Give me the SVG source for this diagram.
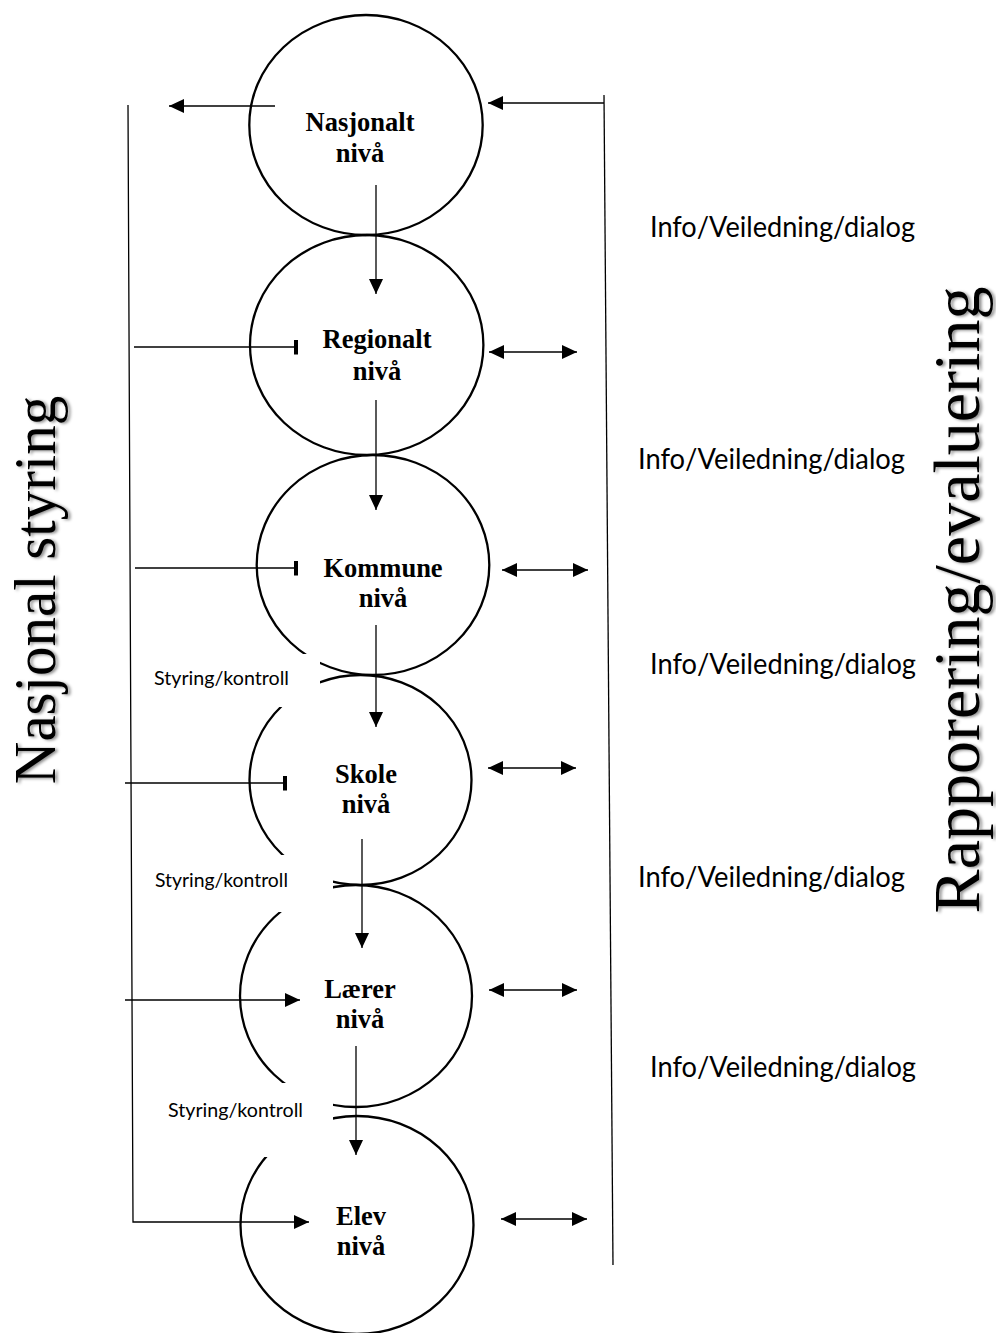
<svg xmlns="http://www.w3.org/2000/svg" width="996" height="1333" viewBox="0 0 996 1333">
<style>
.node{fill:none;stroke:#000;stroke-width:2.3}
.lbl{font-family:"Liberation Serif","Times New Roman",serif;font-weight:bold;font-size:26.5px;fill:#000;text-anchor:middle}
.conn{fill:none;stroke:#000;stroke-width:1.3}
.info{font-family:Lato,"Open Sans","Liberation Sans",sans-serif;font-size:28px;fill:#000}
.sk{font-family:Lato,"Open Sans","Liberation Sans",sans-serif;font-size:20px;fill:#000}
.side{font-family:"Liberation Serif","Times New Roman",serif;fill:#000;text-anchor:middle}
</style>
<defs>
<marker id="ah" markerUnits="userSpaceOnUse" markerWidth="16" markerHeight="16" refX="15" refY="7" orient="auto-start-reverse" viewBox="0 0 16 16">
<path d="M0,0 L15,7 L0,14 z" fill="#000"/>
</marker>
<marker id="tee" markerUnits="userSpaceOnUse" markerWidth="6" markerHeight="16" refX="4.5" refY="7.5" orient="auto" viewBox="0 0 6 16">
<rect x="0.5" y="0" width="4" height="15" fill="#000"/>
</marker>
<filter id="sh" x="-5%" y="-20%" width="110%" height="150%">
<feDropShadow dx="-1" dy="2.5" stdDeviation="1.5" flood-color="#000" flood-opacity="0.45"/>
</filter>
</defs>
<rect width="996" height="1333" fill="#fff"/>

<g id="node-nasjonalt">
<ellipse class="node" cx="366" cy="125" rx="116.7" ry="110"/>
<text class="lbl" x="360" y="131">Nasjonalt</text>
<text class="lbl" x="360" y="162">nivå</text>
</g>
<g id="node-regionalt">
<ellipse class="node" cx="366.7" cy="345" rx="116.7" ry="110"/>
<text class="lbl" x="377" y="348">Regionalt</text>
<text class="lbl" x="377" y="380">nivå</text>
</g>
<g id="node-kommune">
<ellipse class="node" cx="373" cy="565" rx="116.3" ry="110"/>
<text class="lbl" x="383" y="577">Kommune</text>
<text class="lbl" x="383" y="607">nivå</text>
</g>
<g id="node-skole">
<ellipse class="node" cx="360.5" cy="780" rx="111" ry="105"/>
<text class="lbl" x="366" y="783">Skole</text>
<text class="lbl" x="366" y="813">nivå</text>
</g>
<g id="node-laerer">
<ellipse class="node" cx="356" cy="996" rx="116" ry="111"/>
<text class="lbl" x="360" y="998">Lærer</text>
<text class="lbl" x="360" y="1028">nivå</text>
</g>
<g id="node-elev">
<ellipse class="node" cx="357" cy="1225" rx="116.5" ry="109"/>
<text class="lbl" x="361" y="1225">Elev</text>
<text class="lbl" x="361" y="1255">nivå</text>
</g>

<g id="labels-styring">
<rect x="145" y="654" width="175" height="53" fill="#fff"/>
<text class="sk" x="154" y="685" textLength="135" lengthAdjust="spacingAndGlyphs">Styring/kontroll</text>
<rect x="145" y="855" width="188" height="57" fill="#fff"/>
<text class="sk" x="155" y="887" textLength="133" lengthAdjust="spacingAndGlyphs">Styring/kontroll</text>
<rect x="145" y="1083" width="188" height="74" fill="#fff"/>
<text class="sk" x="168" y="1117" textLength="135" lengthAdjust="spacingAndGlyphs">Styring/kontroll</text>
</g>

<g id="connectors">
<path class="conn" d="M128,105 L133,1222 L309,1222" marker-end="url(#ah)"/>
<line class="conn" x1="604" y1="95" x2="613" y2="1265"/>
<line class="conn" x1="275" y1="106" x2="169" y2="106" marker-end="url(#ah)"/>
<line class="conn" x1="604" y1="103" x2="488" y2="103" marker-end="url(#ah)"/>
<line class="conn" x1="376" y1="185" x2="376" y2="294" marker-end="url(#ah)"/>
<line class="conn" x1="376" y1="400" x2="376" y2="510" marker-end="url(#ah)"/>
<line class="conn" x1="376" y1="625" x2="376" y2="727" marker-end="url(#ah)"/>
<line class="conn" x1="362" y1="839" x2="362" y2="948" marker-end="url(#ah)"/>
<line class="conn" x1="356" y1="1046" x2="356" y2="1155" marker-end="url(#ah)"/>
<line class="conn" x1="134" y1="347" x2="298" y2="347" marker-end="url(#tee)"/>
<line class="conn" x1="135" y1="568" x2="298" y2="568" marker-end="url(#tee)"/>
<line class="conn" x1="125" y1="783" x2="287" y2="783" marker-end="url(#tee)"/>
<line class="conn" x1="125" y1="1000" x2="300" y2="1000" marker-end="url(#ah)"/>
<line class="conn" x1="489" y1="352" x2="577" y2="352" marker-start="url(#ah)" marker-end="url(#ah)"/>
<line class="conn" x1="502" y1="570" x2="588" y2="570" marker-start="url(#ah)" marker-end="url(#ah)"/>
<line class="conn" x1="488" y1="768" x2="576" y2="768" marker-start="url(#ah)" marker-end="url(#ah)"/>
<line class="conn" x1="489" y1="990" x2="577" y2="990" marker-start="url(#ah)" marker-end="url(#ah)"/>
<line class="conn" x1="501" y1="1219" x2="587" y2="1219" marker-start="url(#ah)" marker-end="url(#ah)"/>
</g>

<g id="labels-info">
<text class="info" x="650" y="237" textLength="265" lengthAdjust="spacingAndGlyphs">Info/Veiledning/dialog</text>
<text class="info" x="638" y="469" textLength="267" lengthAdjust="spacingAndGlyphs">Info/Veiledning/dialog</text>
<text class="info" x="650" y="674" textLength="266" lengthAdjust="spacingAndGlyphs">Info/Veiledning/dialog</text>
<text class="info" x="638" y="887" textLength="267" lengthAdjust="spacingAndGlyphs">Info/Veiledning/dialog</text>
<text class="info" x="650" y="1077" textLength="266" lengthAdjust="spacingAndGlyphs">Info/Veiledning/dialog</text>
</g>

<g id="side-titles">
<text class="side" font-size="59" x="55" y="590" transform="rotate(-90 55 590)" filter="url(#sh)">Nasjonal styring</text>
<text class="side" font-size="66" x="979" y="600" transform="rotate(-90 979 600)" filter="url(#sh)">Rapporering/evaluering</text>
</g>
</svg>
